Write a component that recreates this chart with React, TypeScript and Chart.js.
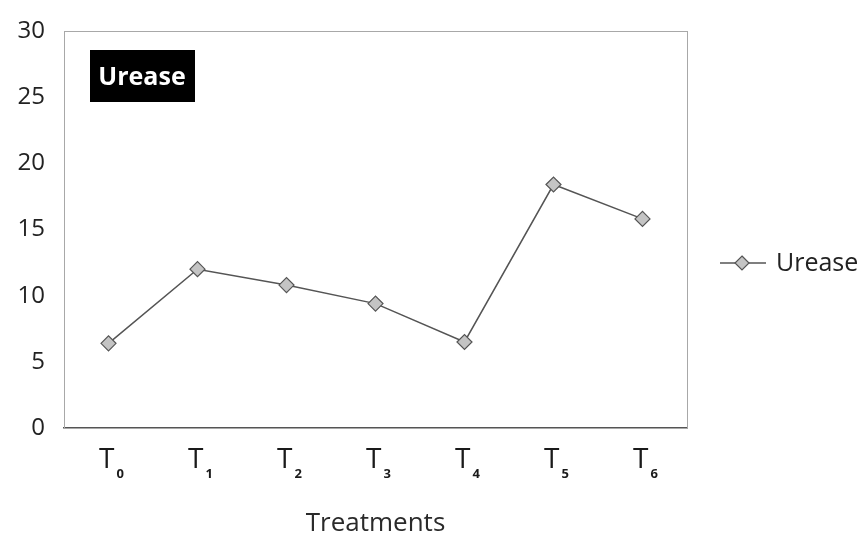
import React, { useEffect, useRef } from "react";
import { Chart, registerables } from "chart.js";

Chart.register(...registerables);

const categories = ["0", "1", "2", "3", "4", "5", "6"];
const tickPrefix = "T";
const ureaseValues = [6.4, 12.0, 10.8, 9.4, 6.5, 18.4, 15.8];
const seriesName = "Urease";
const yTicks = [0, 5, 10, 15, 20, 25, 30];
const xAxisTitle = "Treatments";
const boxTitle = "Urease";

const FONT = "'Open Sans', 'DejaVu Sans', sans-serif";

const decorPlugin = {
  id: "decor",
  beforeDatasetsDraw(chart: any) {
    const { ctx, chartArea } = chart;
    ctx.save();
    ctx.strokeStyle = "#a8a8a8";
    ctx.lineWidth = 1;
    ctx.strokeRect(chartArea.left + 0.5, chartArea.top + 0.5, chartArea.right - chartArea.left, chartArea.bottom - chartArea.top);
    ctx.restore();
  },
  afterDraw(chart: any) {
    const { ctx, chartArea, scales } = chart;
    const x = scales.x;
    ctx.save();
    // x tick labels with subscripts
    ctx.fillStyle = "#1a1a1a";
    ctx.textBaseline = "alphabetic";
    categories.forEach((c, i) => {
      const px = x.getPixelForValue(i);
      ctx.font = `28px ${FONT}`;
      const tw = ctx.measureText(tickPrefix).width;
      ctx.font = `bold 13px ${FONT}`;
      const sw = ctx.measureText(c).width;
      const total = tw + 2 + sw;
      const start = px - total / 2 + 3;
      ctx.font = `28px ${FONT}`;
      ctx.textAlign = "left";
      ctx.fillText(tickPrefix, start, chartArea.bottom + 40);
      ctx.font = `bold 13px ${FONT}`;
      ctx.fillText(c, start + tw + 2, chartArea.bottom + 50);
    });
    // title box
    const bx = chartArea.left + 26;
    const by = chartArea.top + 19;
    ctx.fillStyle = "#000";
    ctx.fillRect(bx, by, 105, 52);
    ctx.fillStyle = "#fff";
    ctx.font = `bold 25px ${FONT}`;
    ctx.textAlign = "center";
    ctx.textBaseline = "middle";
    ctx.fillText(boxTitle, bx + 52, by + 28);
    // legend
    const ly = 263;
    const lx = 720;
    ctx.strokeStyle = "#555";
    ctx.lineWidth = 1.5;
    ctx.beginPath();
    ctx.moveTo(lx, ly);
    ctx.lineTo(lx + 46, ly);
    ctx.stroke();
    const cx = lx + 22;
    ctx.beginPath();
    ctx.moveTo(cx, ly - 7);
    ctx.lineTo(cx + 7, ly);
    ctx.lineTo(cx, ly + 7);
    ctx.lineTo(cx - 7, ly);
    ctx.closePath();
    ctx.fillStyle = "#c4c4c4";
    ctx.fill();
    ctx.strokeStyle = "#555";
    ctx.lineWidth = 1.2;
    ctx.stroke();
    ctx.fillStyle = "#222";
    ctx.font = `25px ${FONT}`;
    ctx.textAlign = "left";
    ctx.textBaseline = "middle";
    ctx.fillText(seriesName, lx + 56, ly + 1);
    ctx.restore();
  },
};

export default function App() {
  const ref = useRef<HTMLCanvasElement | null>(null);
  useEffect(() => {
    if (!ref.current) return;
    const chart = new Chart(ref.current, {
      type: "line",
      data: {
        labels: categories.map((c) => tickPrefix + c),
        datasets: [
          {
            label: seriesName,
            data: ureaseValues,
            borderColor: "#555",
            borderWidth: 1.5,
            backgroundColor: "#c4c4c4",
            pointStyle: "rectRot",
            pointRadius: 7.5,
            pointBorderColor: "#555",
            pointBorderWidth: 1.2,
            pointBackgroundColor: "#c4c4c4",
            tension: 0,
          },
        ],
      },
      options: {
        animation: false,
        responsive: true,
        maintainAspectRatio: false,
        layout: { padding: { top: 29, right: 178, left: 0, bottom: 0 } },
        plugins: { legend: { display: false }, tooltip: { enabled: false } },
        scales: {
          x: {
            offset: true,
            grid: { display: false, drawTicks: false },
            border: { display: true, color: "#555", width: 1.5 },
            ticks: { display: false },
            title: {
              display: true,
              text: xAxisTitle,
              color: "#2a2a2a",
              font: { family: FONT, size: 26 },
              padding: { top: 0, bottom: 3 },
            },
            afterFit: (s: any) => {
              s.height = 114;
            },
          },
          y: {
            min: 0,
            max: 30,
            afterBuildTicks: (s: any) => {
              s.ticks = yTicks.map((v) => ({ value: v }));
            },
            grid: { display: false, drawTicks: false },
            border: { display: true, color: "#777", width: 1 },
            ticks: {
              color: "#222",
              padding: 19,
              font: { family: FONT, size: 24, lineHeight: 1 },
            },
            afterFit: (s: any) => {
              s.width = 64;
            },
          },
        },
      },
      plugins: [decorPlugin],
    });
    return () => chart.destroy();
  }, []);
  return (
    <div style={{ position: "fixed", left: 0, top: 0, width: 865, height: 542, background: "#fff" }}>
      <canvas ref={ref} />
    </div>
  );
}
